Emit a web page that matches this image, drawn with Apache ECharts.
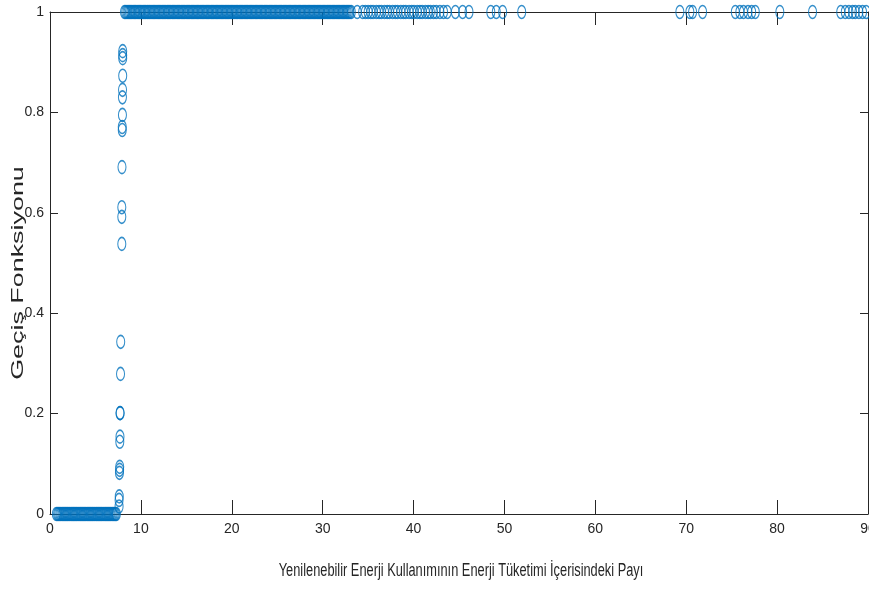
<!DOCTYPE html>
<html>
<head>
<meta charset="utf-8">
<script src="https://cdn.jsdelivr.net/npm/echarts@6/dist/echarts.min.js"></script>
<style>html,body{margin:0;padding:0;background:#fff;}#c{width:869px;height:589px;}</style>
</head>
<body>
<div id="c"></div>
<script>
// x-axis ticks and labels
var xTicks = [0, 10, 20, 30, 40, 50, 60, 70, 80, 90];
var yTicks = [0, 0.2, 0.4, 0.6, 0.8, 1];
var xTitle = 'Yenilenebilir Enerji Kullanımının Enerji Tüketimi İçerisindeki Payı';
var yTitle = 'Geçiş Fonksiyonu';

// observations with transition value 0 (x values)
var zeroX = [0.7,0.83,0.95,1.08,1.2,1.33,1.45,1.58,1.7,1.83,1.95,2.08,2.2,2.33,2.46,2.58,2.7,2.83,2.95,3.08,3.2,3.33,3.45,3.58,3.7,3.83,3.95,4.08,4.2,4.33,4.45,4.58,4.7,4.83,4.95,5.08,5.2,5.33,5.45,5.58,5.7,5.83,5.95,6.08,6.2,6.33,6.45,6.58,6.7,6.83,6.95,7.08,7.2,7.3];

// observations in the transition zone (x, y)
var transX = [7.6, 7.6, 7.62, 7.64, 7.66, 7.67, 7.68, 7.7, 7.7, 7.72, 7.76, 7.78, 7.9, 7.9, 7.9, 7.92, 7.95, 7.95, 7.97, 7.97, 7.98, 8.0, 8.0, 8.0, 8.0];
var transY = [0.015, 0.028, 0.035, 0.082, 0.088, 0.094, 0.144, 0.154, 0.201, 0.201, 0.279, 0.343, 0.538, 0.592, 0.611, 0.691, 0.765, 0.771, 0.795, 0.83, 0.845, 0.873, 0.908, 0.914, 0.922];

// observations with transition value 1 (x values)
var oneX = [8.2,8.33,8.47,8.6,8.74,8.88,9.01,9.15,9.3,9.42,9.57,9.7,9.85,9.98,10.12,10.26,10.4,10.53,10.68,10.8,10.95,11.1,11.23,11.37,11.5,11.65,11.78,11.92,12.06,12.2,12.34,12.47,12.62,12.75,12.9,13.03,13.17,13.3,13.45,13.58,13.72,13.86,14.0,14.14,14.27,14.42,14.55,14.7,14.83,14.97,15.11,15.25,15.38,15.53,15.66,15.8,15.94,16.08,16.22,16.35,16.5,16.63,16.78,16.91,17.05,17.19,17.33,17.46,17.6,17.75,17.88,18.02,18.16,18.3,18.43,18.58,18.71,18.85,18.99,19.13,19.27,19.4,19.55,19.68,19.82,19.96,20.1,20.24,20.37,20.52,20.65,20.8,20.93,21.07,21.21,21.35,21.48,21.63,21.76,21.9,22.04,22.18,22.32,22.45,22.6,22.73,22.87,23.01,23.15,23.29,23.42,23.57,23.7,23.84,23.98,24.12,24.26,24.4,24.53,24.67,24.81,24.95,25.09,25.23,25.37,25.5,25.65,25.78,25.92,26.06,26.2,26.34,26.47,26.62,26.75,26.9,27.03,27.17,27.31,27.45,27.58,27.73,27.86,28.0,28.14,28.28,28.42,28.55,28.7,28.83,28.97,29.11,29.25,29.39,29.52,29.67,29.8,29.94,30.08,30.22,30.36,30.5,30.63,30.78,30.91,31.05,31.19,31.33,31.47,31.6,31.75,31.88,32.02,32.16,32.3,32.44,32.58,32.71,32.86,33.0,33.15,
  33.8,
  34.4,34.7,35.0,35.3,35.55,35.9,36.2,36.45,36.8,37.1,37.35,37.7,38.0,38.25,38.6,38.9,39.15,39.5,39.8,40.05,40.4,40.7,40.95,41.3,41.6,41.85,42.2,42.5,42.9,43.3,43.7,
  44.6,45.4,46.1,
  48.5,49.1,49.8,51.9,
  69.3,70.4,70.7,71.8,75.4,75.9,76.3,76.8,77.2,77.6,80.3,83.9,87.0,87.5,87.9,88.3,88.6,89.0,89.4,89.8];

var points = [];
zeroX.forEach(function (x) { points.push([x, 0]); });
transX.forEach(function (x, i) { points.push([x, transY[i]]); });
oneX.forEach(function (x) { points.push([x, 1]); });

var axisColor = '#262626';
var labelFont = '"Liberation Sans", Arial, sans-serif';

var chart = echarts.init(document.getElementById('c'), null, {renderer: 'canvas'});
chart.setOption({
  backgroundColor: '#ffffff',
  animation: false,
  grid: {left: 50, right: 1, top: 12, bottom: 75, containLabel: false, outerBoundsMode: 'none'},
  xAxis: [{
    type: 'value', min: xTicks[0], max: xTicks[xTicks.length - 1], interval: 10,
    position: 'bottom',
    axisLine: {show: true, lineStyle: {color: axisColor, width: 1}},
    axisTick: {show: true, inside: true, length: 14, lineStyle: {color: axisColor}},
    axisLabel: {color: axisColor, fontFamily: labelFont, fontSize: 14, margin: 8},
    splitLine: {show: false}
  }, {
    type: 'value', min: xTicks[0], max: xTicks[xTicks.length - 1], interval: 10,
    position: 'top',
    axisLine: {show: true, onZero: false, lineStyle: {color: axisColor, width: 1}},
    axisTick: {show: true, inside: true, length: 13, lineStyle: {color: axisColor}},
    axisLabel: {show: false},
    splitLine: {show: false}
  }],
  yAxis: [{
    type: 'value', min: yTicks[0], max: yTicks[yTicks.length - 1], interval: 0.2,
    position: 'left',
    axisLine: {show: true, lineStyle: {color: axisColor, width: 1}},
    axisTick: {show: true, inside: true, length: 8, lineStyle: {color: axisColor}},
    axisLabel: {color: axisColor, fontFamily: labelFont, fontSize: 14, margin: 6},
    splitLine: {show: false}
  }, {
    type: 'value', min: yTicks[0], max: yTicks[yTicks.length - 1], interval: 0.2,
    position: 'right',
    axisLine: {show: true, onZero: false, lineStyle: {color: axisColor, width: 1}},
    axisTick: {show: true, inside: true, length: 8, lineStyle: {color: axisColor}},
    axisLabel: {show: false},
    splitLine: {show: false}
  }],
  graphic: [{
    type: 'text',
    x: 19, y: 273,
    rotation: Math.PI / 2,
    scaleX: 1.68,
    style: {
      text: yTitle,
      font: '16px "Liberation Sans", Arial, sans-serif',
      textAlign: 'center',
      textVerticalAlign: 'middle',
      fill: axisColor
    }
  }, {
    type: 'text',
    x: 461, y: 571,
    scaleX: 0.8,
    scaleY: 1.15,
    style: {
      text: xTitle,
      font: '16px "Liberation Sans", Arial, sans-serif',
      textAlign: 'center',
      textVerticalAlign: 'middle',
      fill: axisColor
    }
  }],
  series: [{
    type: 'scatter',
    xAxisIndex: 0, yAxisIndex: 0,
    data: points,
    symbol: 'circle',
    symbolSize: [8, 13],
    itemStyle: {color: 'rgba(0,0,0,0)', borderColor: '#0072BD', borderWidth: 1.3},
    emphasis: {disabled: true},
    clip: false
  }]
});
</script>
</body>
</html>
